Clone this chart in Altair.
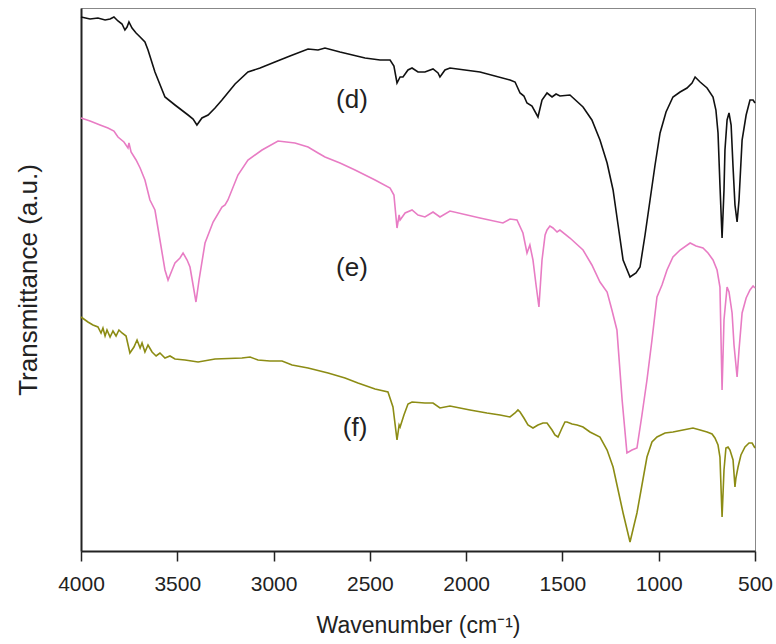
import altair as alt
import pandas as pd

# Spectrum (d) - black
d_wn = [4000, 3953, 3912, 3875, 3849, 3829, 3808, 3787, 3772, 3761, 3751, 3735, 3714, 3693, 3668, 3652,
        3616, 3564, 3512, 3444, 3418, 3398, 3372, 3340, 3304, 3268, 3200, 3133, 3070, 2993, 2915, 2821,
        2769, 2733, 2655, 2525, 2447, 2395, 2375, 2359, 2343, 2328, 2302, 2281, 2250, 2214, 2172, 2146,
        2136, 2110, 2084, 1928, 1772, 1746, 1720, 1700, 1684, 1658, 1627, 1606, 1580, 1554, 1533, 1513,
        1461, 1393, 1347, 1305, 1268, 1237, 1211, 1185, 1149, 1118, 1097, 1071, 1045, 1019, 993, 962,
        926, 889, 853, 827, 811, 785, 749, 718, 703, 692, 682, 671, 661, 656, 645, 635, 624, 614, 604,
        593, 583, 567, 546, 526, 510, 500]
d_t = [534, 532, 533, 531, 532, 534, 530, 527, 521, 524, 529, 523, 518, 514, 509, 501,
       479, 454, 446, 436, 432, 426, 433, 436, 443, 451, 467, 479, 483, 489, 495, 502,
       501, 503, 499, 493, 491, 491, 485, 468, 474, 474, 481, 483, 479, 479, 482, 478,
       474, 481, 483, 479, 471, 469, 458, 455, 448, 445, 434, 451, 458, 454, 457, 455,
       456, 444, 431, 411, 388, 361, 326, 291, 274, 278, 284, 316, 351, 386, 418, 439,
       454, 459, 463, 468, 474, 469, 463, 454, 441, 418, 366, 313, 361, 401, 431, 438, 426, 384, 346,
       329, 351, 411, 436, 451, 451, 448]

# Spectrum (e) - pink
e_wn = [4000, 3953, 3901, 3860, 3829, 3808, 3777, 3756, 3751, 3740, 3714, 3693, 3668, 3642, 3616, 3590,
        3564, 3548, 3527, 3512, 3486, 3470, 3449, 3434, 3418, 3403, 3387, 3356, 3314, 3268, 3252, 3237,
        3185, 3133, 3060, 2977, 2889, 2821, 2769, 2733, 2655, 2577, 2473, 2395, 2375, 2359, 2348, 2343,
        2317, 2281, 2250, 2214, 2172, 2136, 2084, 1928, 1809, 1772, 1736, 1705, 1684, 1669, 1653, 1637,
        1622, 1606, 1590, 1580, 1565, 1549, 1528, 1513, 1461, 1393, 1347, 1305, 1268, 1243, 1217, 1190,
        1165, 1139, 1113, 1087, 1061, 1035, 1009, 983, 957, 926, 889, 837, 806, 770, 744, 718, 697, 682,
        671, 661, 645, 635, 619, 609, 593, 583, 567, 546, 526, 510, 500]
e_t = [433, 430, 426, 423, 420, 414, 409, 403, 408, 399, 391, 383, 371, 351, 341, 311,
       281, 271, 281, 288, 293, 298, 291, 284, 266, 249, 271, 308, 329, 344, 346, 351,
       376, 391, 401, 410, 408, 404, 398, 394, 388, 381, 371, 363, 356, 323, 336, 331,
       338, 341, 336, 334, 339, 334, 340, 333, 328, 332, 331, 318, 298, 306, 291, 266,
       244, 291, 316, 321, 325, 323, 319, 321, 313, 301, 286, 269, 259, 241, 221, 151,
       98, 101, 103, 136, 171, 211, 254, 266, 281, 294, 301, 308, 305, 303, 298, 291, 281, 264,
       161, 231, 264, 259, 238, 206, 174, 201, 238, 253, 261, 265, 263]

# Spectrum (f) - olive
f_wn = [4000, 3964, 3938, 3912, 3896, 3886, 3875, 3865, 3849, 3834, 3818, 3803, 3787, 3766, 3746, 3725,
        3709, 3693, 3683, 3668, 3652, 3631, 3610, 3590, 3564, 3538, 3512, 3460, 3392, 3304, 3164, 3122,
        3081, 3019, 2956, 2904, 2821, 2717, 2629, 2562, 2473, 2406, 2380, 2359, 2348, 2343, 2323, 2302,
        2281, 2214, 2172, 2136, 2084, 1980, 1892, 1824, 1772, 1746, 1731, 1720, 1700, 1679, 1653, 1627,
        1601, 1580, 1554, 1539, 1523, 1502, 1487, 1476, 1450, 1424, 1393, 1357, 1305, 1268, 1237, 1211,
        1185, 1149, 1128, 1113, 1087, 1061, 1035, 1009, 967, 926, 874, 822, 785, 749, 723, 708, 692, 682,
        671, 661, 651, 640, 630, 614, 604, 599, 588, 573, 552, 531, 515, 500]
f_t = [234, 229, 226, 224, 218, 223, 215, 221, 214, 220, 215, 221, 218, 215, 198, 204,
       211, 203, 208, 199, 206, 199, 195, 198, 193, 195, 192, 191, 189, 192, 193, 194,
       191, 190, 190, 186, 183, 178, 173, 168, 162, 159, 144, 111, 126, 124, 136, 147,
       149, 148, 148, 143, 145, 141, 138, 136, 134, 138, 141, 139, 133, 126, 123, 126,
       128, 128, 121, 116, 114, 123, 129, 129, 127, 126, 124, 119, 114, 101, 84, 61,
       38, 9, 26, 38, 66, 94, 109, 114, 118, 119, 121, 123, 121, 119, 117, 113, 106, 94,
       34, 81, 103, 104, 101, 91, 64, 73, 84, 96, 104, 108, 108, 103]

series_names = ["(d)", "(e)", "(f)"]
series_colors = ["#111111", "#e87cc4", "#8c8c14"]

label_wn = [2593, 2593, 2577]
label_t = [451, 283, 123]

x_ticks = [4000, 3500, 3000, 2500, 2000, 1500, 1000, 500]

rows = []
for name, wns, ts in zip(series_names, [d_wn, e_wn, f_wn], [d_t, e_t, f_t]):
    for i, (w, t) in enumerate(zip(wns, ts)):
        rows.append({"series": name, "wn": w, "t": t, "i": i})
df = pd.DataFrame(rows)
labels = pd.DataFrame({"series": series_names, "wn": label_wn, "t": label_t})

FONT = "Liberation Sans"

x_enc = alt.X("wn:Q",
              scale=alt.Scale(domain=[500, 4000], reverse=True, nice=False, zero=False),
              axis=alt.Axis(values=x_ticks, format="d", title="Wavenumber (cm⁻¹)", grid=False,
                            tickSize=10, tickWidth=1.5, tickColor="#222",
                            domainColor="#222", domainWidth=2,
                            labelFontSize=21, labelFont=FONT, labelColor="#222",
                            labelPadding=12, labelFlush=False,
                            titleFontSize=23, titleFont=FONT, titleFontWeight="normal",
                            titleColor="#222", titlePadding=20))
y_enc = alt.Y("t:Q",
              scale=alt.Scale(domain=[0, 543], nice=False, zero=False),
              axis=alt.Axis(title="Transmittance (a.u.)", ticks=False, labels=False, grid=False,
                            domainColor="#222", domainWidth=2,
                            titleFontSize=26, titleFont=FONT, titleFontWeight="normal",
                            titleColor="#222", titlePadding=40))

lines = alt.Chart(df).mark_line(strokeWidth=1.6).encode(
    x=x_enc,
    y=y_enc,
    color=alt.Color("series:N", scale=alt.Scale(domain=series_names, range=series_colors), legend=None),
    order="i:Q",
)

texts = alt.Chart(labels).mark_text(fontSize=26, font=FONT, color="#222", align="center", baseline="middle").encode(
    x=alt.X("wn:Q"),
    y=alt.Y("t:Q"),
    text="series:N",
)

chart = alt.layer(lines, texts).properties(
    width=674, height=543,
    padding={"left": 81, "top": 8, "right": 21, "bottom": 93},
    autosize="none",
    background="white",
).configure_view(stroke="#888", strokeWidth=1)

chart.save("out.html", embed_options={"renderer": "svg", "actions": False})
